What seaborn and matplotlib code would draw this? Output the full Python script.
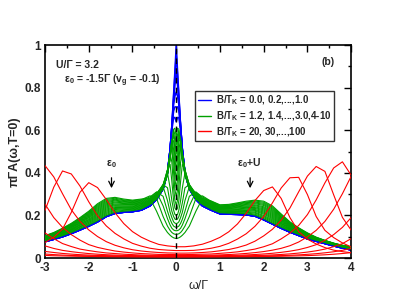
import matplotlib
matplotlib.use("Agg")
import matplotlib.pyplot as plt
import seaborn as sns
from matplotlib.lines import Line2D
from matplotlib.ticker import MultipleLocator, FuncFormatter

# ---------------- data ----------------
omega = [-3.0, -2.8, -2.6, -2.4, -2.2, -2.0, -1.8, -1.6, -1.4, -1.2, -1.0, -0.8,
         -0.6, -0.45, -0.3, -0.2, -0.14, -0.1, -0.06, -0.03, 0.0, 0.03, 0.06, 0.1,
         0.14, 0.2, 0.3, 0.45, 0.6,
         0.8, 1.0, 1.2, 1.4, 1.6, 1.8, 2.0, 2.2, 2.4, 2.6, 2.8, 3.0, 3.2, 3.4, 3.6, 3.8, 4.0]

# blue family B/T_K = 0.0 ... 1.0 (common broad part + individual Kondo peak)
blue_left = [0.077, 0.088, 0.100, 0.115, 0.132, 0.150, 0.170, 0.195, 0.210, 0.215, 0.218, 0.225]
blue_right = [0.225, 0.208, 0.206, 0.205, 0.203, 0.197, 0.180, 0.160, 0.140, 0.122, 0.106,
              0.090, 0.079, 0.068, 0.057, 0.047, 0.038]
b_B0_0 = [.245, .275, .325, .40, .51, .62, .77, .88, 1.0, .88, .77, .62, .51, .40, .325, .275, .245]
b_B0_2 = [.245, .275, .325, .40, .51, .62, .76, .86, .96, .86, .76, .62, .51, .40, .325, .275, .245]
b_B0_4 = [.245, .275, .325, .40, .51, .62, .74, .81, .87, .81, .74, .62, .51, .40, .325, .275, .245]
b_B0_6 = [.245, .275, .325, .40, .51, .62, .72, .76, .78, .76, .72, .62, .51, .40, .325, .275, .245]
b_B0_8 = [.245, .275, .325, .40, .51, .61, .69, .71, .71, .71, .69, .61, .51, .40, .325, .275, .245]
b_B1_0 = [.245, .275, .325, .40, .51, .60, .66, .66, .64, .66, .66, .60, .51, .40, .325, .275, .245]
blue_cores = [b_B0_0, b_B0_2, b_B0_4, b_B0_6, b_B0_8, b_B1_0]

# green family B/T_K = 1.2, 1.4, ..., 3.0, 4 ... 10
g_B1_2 = [.082, .093, .105, .120, .137, .155, .175, .200, .215, .220, .223, .230,
          .252, .278, .325, .39, .46, .535, .605, .61, .57, .61, .605, .535, .46, .39, .325, .278, .252,
          .230, .213, .211, .210, .208, .202, .185, .165, .145, .127, .111, .095, .084, .073, .062, .052, .043]
g_B1_4 = [.083, .095, .107, .123, .140, .159, .180, .205, .219, .224, .226, .233,
          .254, .28, .327, .393, .465, .54, .6, .58, .53, .58, .6, .54, .465, .393, .327, .28, .254,
          .232, .215, .214, .213, .212, .206, .190, .170, .149, .130, .113, .096, .085, .074, .0625, .0525, .044]
g_B1_6 = [.085, .096, .109, .125, .144, .163, .185, .210, .224, .227, .229, .236,
          .256, .282, .329, .396, .47, .545, .59, .55, .49, .55, .59, .545, .47, .396, .329, .282, .256,
          .235, .218, .216, .216, .215, .211, .195, .175, .153, .132, .115, .098, .086, .074, .063, .053, .044]
g_B1_8 = [.086, .098, .112, .128, .147, .167, .190, .215, .228, .231, .232, .239,
          .258, .284, .331, .399, .475, .55, .575, .51, .45, .51, .575, .55, .475, .399, .331, .284, .258,
          .237, .220, .219, .219, .219, .215, .200, .180, .157, .135, .117, .099, .087, .075, .0635, .0535, .045]
g_B2_0 = [.088, .100, .114, .131, .150, .171, .195, .220, .233, .234, .235, .242,
          .26, .286, .333, .402, .48, .555, .55, .47, .41, .47, .55, .555, .48, .402, .333, .286, .26,
          .240, .222, .221, .222, .223, .220, .206, .185, .161, .138, .119, .101, .088, .076, .064, .054, .046]
g_B2_2 = [.089, .101, .116, .133, .154, .175, .200, .225, .237, .238, .238, .245,
          .262, .288, .335, .405, .485, .555, .51, .42, .37, .42, .51, .555, .485, .405, .335, .288, .262,
          .242, .225, .224, .225, .226, .224, .211, .190, .164, .140, .121, .102, .088, .076, .0645, .0545, .046]
g_B2_4 = [.091, .103, .118, .136, .157, .179, .205, .230, .241, .241, .241, .248,
          .264, .29, .337, .408, .49, .55, .46, .37, .33, .37, .46, .55, .49, .408, .337, .29, .264,
          .244, .227, .226, .228, .230, .228, .216, .195, .168, .143, .123, .104, .089, .077, .065, .055, .047]
g_B2_6 = [.092, .105, .120, .139, .160, .183, .210, .235, .246, .245, .244, .251,
          .266, .292, .339, .411, .49, .52, .4, .32, .29, .32, .4, .52, .49, .411, .339, .292, .266,
          .247, .229, .229, .231, .234, .233, .221, .200, .172, .146, .125, .105, .090, .077, .0655, .0555, .047]
g_B2_8 = [.094, .107, .123, .142, .164, .188, .215, .240, .250, .249, .248, .254,
          .268, .294, .341, .414, .49, .45, .33, .27, .25, .27, .33, .45, .49, .414, .341, .294, .268,
          .249, .232, .232, .235, .238, .237, .226, .205, .176, .149, .127, .107, .091, .078, .066, .056, .048]
g_B3_0 = [.095, .108, .125, .144, .167, .192, .220, .245, .254, .252, .251, .256,
          .27, .296, .343, .415, .44, .36, .27, .235, .225, .235, .27, .36, .44, .415, .343, .296, .27,
          .251, .234, .234, .238, .241, .241, .231, .210, .180, .151, .128, .108, .092, .079, .0665, .0565, .049]
g_B4 = [.096, .110, .127, .147, .170, .196, .225, .250, .259, .256, .254, .259,
        .272, .298, .345, .4, .33, .27, .225, .205, .2, .205, .225, .27, .33, .4, .345, .298, .272,
        .254, .236, .237, .241, .245, .246, .236, .215, .184, .154, .130, .109, .093, .079, .067, .057, .049]
g_B5 = [.098, .112, .129, .150, .173, .200, .230, .255, .263, .259, .257, .262,
        .275, .302, .345, .33, .26, .22, .195, .183, .18, .183, .195, .22, .26, .33, .345, .302, .275,
        .256, .238, .239, .244, .249, .250, .241, .220, .188, .157, .132, .111, .094, .080, .0675, .0575, .050]
g_B6 = [.099, .113, .131, .152, .177, .204, .235, .260, .268, .263, .260, .265,
        .278, .305, .335, .27, .215, .19, .17, .164, .162, .164, .17, .19, .215, .27, .335, .305, .278,
        .259, .241, .242, .247, .252, .255, .247, .225, .192, .159, .134, .112, .095, .081, .068, .058, .051]
g_B7 = [.101, .115, .133, .155, .180, .208, .240, .265, .272, .266, .263, .268,
        .282, .31, .29, .22, .182, .163, .15, .146, .144, .146, .15, .163, .182, .22, .29, .31, .282,
        .261, .243, .244, .250, .256, .259, .252, .230, .195, .162, .136, .114, .095, .081, .0685, .0585, .051]
g_B8 = [.102, .117, .136, .158, .183, .212, .245, .270, .276, .270, .266, .271,
        .287, .31, .245, .185, .155, .14, .132, .129, .128, .129, .132, .14, .155, .185, .245, .31, .287,
        .263, .245, .247, .253, .260, .263, .257, .235, .199, .165, .138, .115, .096, .082, .069, .059, .052]
g_B9 = [.104, .118, .138, .160, .187, .216, .250, .275, .281, .273, .269, .274,
        .292, .28, .195, .15, .13, .12, .114, .112, .111, .112, .114, .12, .13, .15, .195, .28, .292,
        .266, .248, .249, .256, .263, .268, .262, .240, .203, .167, .140, .117, .097, .082, .0695, .0595, .052]
g_B10 = [.105, .120, .140, .163, .190, .220, .255, .280, .285, .277, .272, .277,
         .28, .22, .15, .12, .107, .1, .095, .093, .092, .093, .095, .1, .107, .12, .15, .22, .28,
         .268, .250, .252, .259, .267, .272, .267, .245, .207, .170, .142, .118, .098, .083, .070, .060, .053]
green_curves = [g_B1_2, g_B1_4, g_B1_6, g_B1_8, g_B2_0, g_B2_2, g_B2_4, g_B2_6, g_B2_8,
                g_B3_0, g_B4, g_B5, g_B6, g_B7, g_B8, g_B9, g_B10]

# red family B/T_K = 20, 30, ..., 100
red_omega = [-3.0, -2.8, -2.6, -2.4, -2.2, -2.0, -1.8, -1.6, -1.4, -1.2, -1.0, -0.8,
             -0.6, -0.4, -0.2, 0.0, 0.2, 0.4, 0.6, 0.8, 1.0, 1.2, 1.4, 1.6, 1.8, 2.0,
             2.2, 2.4, 2.6, 2.8, 3.0, 3.2, 3.4, 3.6, 3.8, 4.0]
r_B20 = [.073, .098, .136, .214, .309, .354, .331, .275, .213, .162, .124, .098,
         .079, .064, .057, .053, .053, .057, .065, .079, .097, .123, .160, .210, .270, .317,
         .334, .280, .190, .124, .089, .066, .049, .037, .030, .025]
r_B30 = [.224, .333, .409, .395, .338, .264, .199, .151, .116, .090, .069, .056,
         .046, .040, .037, .035, .035, .036, .040, .046, .055, .069, .089, .114, .149, .195,
         .259, .329, .377, .379, .298, .195, .130, .096, .071, .052]
r_B40 = [.434, .381, .302, .227, .172, .132, .101, .077, .060, .048, .039, .033,
         .029, .026, .024, .023, .023, .024, .026, .029, .034, .040, .049, .061, .079, .104,
         .135, .178, .235, .311, .385, .430, .407, .297, .191, .131]
r_B50 = [.253, .190, .144, .110, .084, .063, .050, .041, .033, .028, .024, .021,
         .019, .017, .017, .016, .016, .017, .018, .019, .022, .025, .029, .035, .042, .053,
         .067, .090, .117, .153, .204, .273, .353, .423, .452, .389]
r_B60 = [.118, .091, .068, .054, .042, .035, .029, .024, .021, .018, .016, .014,
         .013, .0125, .012, .012, .012, .012, .0127, .0134, .0147, .0164, .0187, .0216, .0254, .0304,
         .0369, .0456, .0578, .0752, .0994, .130, .172, .229, .302, .384]
r_B70 = [.057, .045, .036, .030, .025, .021, .018, .0156, .0138, .0124, .0115, .0108,
         .0102, .0096, .0093, .0092, .0091, .0093, .0098, .0104, .0111, .0119, .0129, .0145, .0165, .0191,
         .0223, .0267, .0322, .0394, .0497, .0627, .0831, .110, .144, .190]
r_B80 = [.031, .026, .0216, .0184, .0158, .0138, .0122, .0112, .0103, .0095, .0089, .0082,
         .0079, .0078, .0076, .0075, .0075, .0076, .0078, .008, .0085, .0091, .0098, .0106, .0115, .0128,
         .0146, .0168, .0195, .0233, .0279, .034, .0419, .0535, .0676, .0911]
r_B90 = [.0187, .0161, .0138, .0121, .0108, .0099, .0091, .0083, .0077, .0073, .007, .0068,
         .0065, .0063, .0062, .006, .0063, .0064, .0065, .0067, .0069, .0072, .0075, .0081, .0087, .0095,
         .0104, .0114, .0129, .0148, .0174, .0204, .0245, .0294, .0362, .0453]
r_B100 = [.0122, .0107, .0098, .0089, .0081, .0075, .0069, .0066, .0062, .006, .0058, .0056,
          .0054, .0052, .0051, .0051, .0051, .0052, .0053, .0055, .0057, .006, .0062, .0064, .0068, .0071,
          .0078, .0085, .0094, .0102, .0114, .0131, .0152, .0178, .0212, .0254]
red_curves = [r_B20, r_B30, r_B40, r_B50, r_B60, r_B70, r_B80, r_B90, r_B100]

legend_labels = [r"B/T$_\mathbf{K}$ = 0.0, 0.2,...,1.0",
                 r"B/T$_\mathbf{K}$ = 1.2, 1.4,...,3.0,4-10",
                 r"B/T$_\mathbf{K}$ = 20, 30,...,100"]

BLUE, GREEN, RED = "#0000ff", "#00a000", "#ff0000"

# ---------------- style ----------------
sns.set_style("white")
plt.rcParams["font.family"] = ["Liberation Sans", "DejaVu Sans"]
plt.rcParams["axes.unicode_minus"] = False
plt.rcParams["mathtext.fontset"] = "custom"
plt.rcParams["mathtext.rm"] = "Liberation Sans"
plt.rcParams["mathtext.bf"] = "Liberation Sans:bold"
plt.rcParams["mathtext.it"] = "Liberation Sans:italic"

fig, ax = plt.subplots(figsize=(3.95, 3.05), dpi=100)
fig.subplots_adjust(left=0.114, right=0.889, top=0.852, bottom=0.154)

LW = 0.8
for core in blue_cores:
    sns.lineplot(x=omega, y=blue_left + core + blue_right, ax=ax, color=BLUE,
                 linewidth=1.1, sort=False, estimator=None, zorder=2)
for g in green_curves:
    sns.lineplot(x=omega, y=g, ax=ax, color=GREEN, linewidth=LW,
                 sort=False, estimator=None, zorder=3)
for r in red_curves:
    sns.lineplot(x=red_omega, y=r, ax=ax, color=RED, linewidth=LW,
                 sort=False, estimator=None, zorder=4)

ax.axvline(0, color="k", lw=1.0, ls=(0, (4, 3)), zorder=5)

ax.set_xlim(-3, 4)
ax.set_ylim(0, 1)
ax.xaxis.set_major_locator(MultipleLocator(1))
ax.xaxis.set_minor_locator(MultipleLocator(0.5))
ax.yaxis.set_major_locator(MultipleLocator(0.2))
ax.yaxis.set_minor_locator(MultipleLocator(0.1))
fmt = FuncFormatter(lambda v, p: "%g" % round(v, 2))
ax.xaxis.set_major_formatter(fmt)
ax.yaxis.set_major_formatter(fmt)
ax.tick_params(which="both", direction="in", top=True, right=True, width=1.0, color="k")
ax.tick_params(which="major", length=5, labelsize=8.5, pad=3)
ax.tick_params(which="minor", length=2.5)
for lab in ax.get_xticklabels() + ax.get_yticklabels():
    lab.set_fontweight("bold")
for sp in ax.spines.values():
    sp.set_linewidth(1.2)
    sp.set_color("k")

ax.set_xlabel("ω/Γ", fontsize=9, labelpad=4)
ax.set_ylabel("πΓA(ω,T=0)", fontsize=9, fontweight="bold", labelpad=3)

ax.text(-2.75, 0.906, "U/Γ = 3.2", fontsize=7.5, fontweight="bold", ha="left", va="center")
ax.text(-2.56, 0.831, r"ε$_\mathbf{0}$ = -1.5Γ (v$_\mathbf{g}$ = -0.1)", fontsize=7.5,
        fontweight="bold", ha="left", va="center")
ax.text(3.48, 0.92, "(b)", fontsize=7.5, fontweight="bold", ha="center", va="center")

ax.text(-1.48, 0.44, r"ε$_\mathbf{0}$", fontsize=7.5, fontweight="bold", ha="center", va="center")
ax.annotate("", xy=(-1.48, 0.315), xytext=(-1.48, 0.39),
            arrowprops=dict(arrowstyle="->", lw=0.9, color="k"))
ax.text(1.66, 0.447, r"ε$_\mathbf{0}$+U", fontsize=7.5, fontweight="bold", ha="center", va="center")
ax.annotate("", xy=(1.69, 0.315), xytext=(1.69, 0.39),
            arrowprops=dict(arrowstyle="->", lw=0.9, color="k"))

handles = [Line2D([], [], color=c, lw=1.0) for c in (BLUE, GREEN, RED)]
leg = ax.legend(handles, legend_labels, loc="upper right", bbox_to_anchor=(0.945, 0.785),
                prop={"weight": "bold", "size": 7}, frameon=True, fancybox=False,
                handlelength=1.3, handletextpad=0.5, borderpad=0.3, labelspacing=0.2,
                borderaxespad=0.0)
leg.get_frame().set_edgecolor("k")
leg.get_frame().set_linewidth(1.0)
leg.set_zorder(6)

fig.savefig("out.png", dpi=100)
